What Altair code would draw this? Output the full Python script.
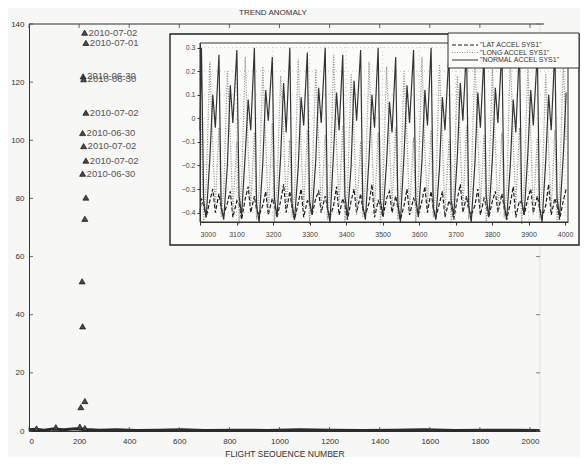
import altair as alt
import pandas as pd

FONT = "Liberation Sans"

TITLE = "TREND ANOMALY"
XTITLE = "FLIGHT SEQUENCE NUMBER"

# ---------------- main chart data ----------------
TRI_X = [222, 227, 216, 218, 227, 214, 218, 227, 214, 227, 223, 212, 214, 223, 207, 203, 223, 30, 107]
TRI_Y = [137.0, 133.5, 122.0, 121.0, 109.5, 102.5, 98.0, 93.0, 88.5, 80.3, 73.0, 51.5, 36.0, 10.3, 8.2, 1.5, 1.0, 0.9, 1.3]
TRI_LABEL = ["2010-07-02", "2010-07-01", "2010-06-30", "2010-06-30", "2010-07-02",
             "2010-06-30", "2010-07-02", "2010-07-02", "2010-06-30",
             "", "", "", "", "", "", "", "", "", ""]

BASE_X = [0, 25, 60, 95, 140, 185, 230, 280, 350, 430, 520, 610, 700, 820, 950, 1080,
          1200, 1330, 1460, 1580, 1700, 1820, 1940, 2040]
BASE_Y = [0.4, 0.6, 0.3, 0.7, 0.4, 0.8, 0.5, 0.3, 0.4, 0.2, 0.3, 0.4, 0.2, 0.3, 0.2, 0.4,
          0.3, 0.2, 0.3, 0.4, 0.2, 0.3, 0.3, 0.2]

MAIN_XTICKS = [0, 200, 400, 600, 800, 1000, 1200, 1400, 1600, 1800, 2000]
MAIN_YTICKS = [0, 20, 40, 60, 80, 100, 120, 140]

# ---------------- inset data ----------------
SERIES = ['"LAT ACCEL SYS1"', '"LONG ACCEL SYS1"', '"NORMAL ACCEL SYS1"']

INSET_X = [3000,
    3004, 3010, 3017, 3027, 3035, 3042,
    3052, 3058, 3065, 3075, 3083, 3090,
    3101, 3107, 3114, 3124, 3132, 3139,
    3149, 3155, 3162, 3172, 3180, 3187,
    3198, 3204, 3211, 3221, 3229, 3236,
    3246, 3252, 3259, 3269, 3277, 3284,
    3294, 3300, 3307, 3317, 3325, 3332,
    3343, 3349, 3356, 3366, 3374, 3381,
    3391, 3397, 3404, 3414, 3422, 3429,
    3440, 3446, 3453, 3463, 3471, 3478,
    3488, 3494, 3501, 3511, 3519, 3526,
    3536, 3542, 3549, 3559, 3567, 3574,
    3585, 3591, 3598, 3608, 3616, 3623,
    3633, 3639, 3646, 3656, 3664, 3671,
    3682, 3688, 3695, 3705, 3713, 3720,
    3730, 3736, 3743, 3753, 3761, 3768,
    3778, 3784, 3791, 3801, 3809, 3816,
    3827, 3833, 3840, 3850, 3858, 3865,
    3875, 3881, 3888, 3898, 3906, 3913,
    3924, 3930, 3937, 3947, 3955, 3962,
    3972, 3978, 3985, 3995, 4003]

LAT = [-0.40,
    -0.34, -0.37, -0.42, -0.35, -0.30, -0.40,
    -0.32, -0.38, -0.41, -0.36, -0.31, -0.42,
    -0.35, -0.36, -0.43, -0.34, -0.29, -0.40,
    -0.33, -0.39, -0.41, -0.37, -0.31, -0.41,
    -0.34, -0.37, -0.42, -0.35, -0.28, -0.40,
    -0.31, -0.38, -0.43, -0.36, -0.30, -0.42,
    -0.35, -0.36, -0.41, -0.34, -0.31, -0.40,
    -0.33, -0.38, -0.42, -0.37, -0.29, -0.41,
    -0.34, -0.37, -0.43, -0.35, -0.30, -0.40,
    -0.32, -0.39, -0.41, -0.36, -0.28, -0.42,
    -0.35, -0.37, -0.42, -0.34, -0.31, -0.40,
    -0.33, -0.38, -0.43, -0.37, -0.30, -0.41,
    -0.34, -0.36, -0.41, -0.35, -0.29, -0.40,
    -0.31, -0.38, -0.42, -0.36, -0.31, -0.42,
    -0.35, -0.37, -0.43, -0.34, -0.28, -0.40,
    -0.33, -0.39, -0.41, -0.37, -0.30, -0.41,
    -0.34, -0.37, -0.42, -0.35, -0.31, -0.40,
    -0.32, -0.38, -0.43, -0.36, -0.29, -0.42,
    -0.35, -0.36, -0.41, -0.34, -0.30, -0.40,
    -0.33, -0.38, -0.42, -0.37, -0.28, -0.41,
    -0.34, -0.37, -0.43, -0.35, -0.30]

LONG = [0.22,
    -0.08, -0.44, -0.28, 0.24, -0.12, -0.38,
    -0.04, -0.42, -0.31, 0.20, -0.08, -0.40,
    -0.10, -0.45, -0.27, 0.26, -0.14, -0.37,
    -0.06, -0.43, -0.30, 0.22, -0.10, -0.41,
    -0.02, -0.44, -0.29, 0.18, -0.06, -0.39,
    -0.09, -0.42, -0.32, 0.25, -0.13, -0.38,
    -0.05, -0.45, -0.28, 0.21, -0.09, -0.40,
    -0.07, -0.43, -0.30, 0.27, -0.11, -0.37,
    -0.03, -0.44, -0.31, 0.19, -0.07, -0.41,
    -0.10, -0.42, -0.27, 0.24, -0.12, -0.39,
    -0.06, -0.45, -0.29, 0.22, -0.10, -0.38,
    -0.04, -0.43, -0.32, 0.20, -0.08, -0.40,
    -0.08, -0.44, -0.28, 0.26, -0.13, -0.37,
    -0.05, -0.42, -0.30, 0.23, -0.09, -0.41,
    -0.09, -0.45, -0.31, 0.18, -0.11, -0.39,
    -0.03, -0.43, -0.27, 0.25, -0.07, -0.38,
    -0.07, -0.44, -0.29, 0.21, -0.12, -0.40,
    -0.06, -0.42, -0.32, 0.27, -0.10, -0.37,
    -0.04, -0.45, -0.28, 0.22, -0.08, -0.41,
    -0.08, -0.43, -0.30, 0.19, -0.13, -0.39,
    -0.05, -0.44, -0.31, 0.24, -0.09]

NORMAL = [-0.05,
    0.30, -0.35, -0.42, -0.17, 0.10, -0.04,
    0.27, -0.38, -0.43, -0.20, 0.14, -0.02,
    0.29, -0.33, -0.41, -0.15, 0.08, -0.05,
    0.30, -0.37, -0.44, -0.19, 0.12, -0.01,
    0.26, -0.34, -0.42, -0.16, 0.15, -0.06,
    0.30, -0.36, -0.43, -0.21, 0.09, -0.03,
    0.28, -0.35, -0.41, -0.18, 0.13, -0.02,
    0.30, -0.38, -0.44, -0.14, 0.11, -0.05,
    0.27, -0.33, -0.42, -0.20, 0.16, -0.01,
    0.29, -0.37, -0.43, -0.17, 0.10, -0.04,
    0.30, -0.35, -0.41, -0.19, 0.07, -0.06,
    0.26, -0.36, -0.44, -0.15, 0.14, -0.02,
    0.29, -0.34, -0.42, -0.18, 0.12, -0.03,
    0.30, -0.38, -0.43, -0.21, 0.09, -0.05,
    0.28, -0.35, -0.41, -0.16, 0.15, -0.01,
    0.30, -0.37, -0.44, -0.19, 0.11, -0.04,
    0.27, -0.33, -0.42, -0.17, 0.13, -0.02,
    0.29, -0.36, -0.43, -0.20, 0.08, -0.06,
    0.30, -0.35, -0.41, -0.15, 0.12, -0.03,
    0.28, -0.38, -0.44, -0.18, 0.10, -0.05,
    0.29, -0.34, -0.42, -0.16, 0.11]

INSET_XTICKS = [3000, 3100, 3200, 3300, 3400, 3500, 3600, 3700, 3800, 3900, 4000]
INSET_YTICKS = [-0.4, -0.3, -0.2, -0.1, 0.0, 0.1, 0.2, 0.3]

# ---------------- tables ----------------
tri_df = pd.DataFrame({"x": TRI_X, "y": TRI_Y, "label": TRI_LABEL})
base_df = pd.DataFrame({"x": BASE_X, "y": BASE_Y})
rows = []
for name, vals in zip(SERIES, [LAT, LONG, NORMAL]):
    for xv, yv in zip(INSET_X, vals):
        rows.append({"x": xv, "y": yv, "series": name})
inset_df = pd.DataFrame(rows)
legend_df = pd.DataFrame({"series": SERIES})
title_df = pd.DataFrame({"t": [TITLE]})

W, H = 511, 407
# inset geometry (pixels inside plot area)
IX0, IX1 = 171, 539
IY0, IY1 = 198, 19

mx = alt.Scale(domain=[0, 2040], range=[0, W])
my = alt.Scale(domain=[0, 140], range=[H, 0])
ix = alt.Scale(domain=[3000, 4008], range=[IX0, IX1])
iy = alt.Scale(domain=[-0.44, 0.32], range=[IY0, IY1])
dash_scale = alt.Scale(domain=SERIES, range=[[4, 2], [1, 1.5], [1, 0]])
col_scale = alt.Scale(domain=SERIES, range=["#1e1e1e", "#8c8c8c", "#333333"])
leg_y = alt.Scale(type="point", domain=SERIES, range=[21, 36], padding=0)

# main axes (x and y)
main_axes = alt.Chart(base_df).mark_line(color="#2b2b2b", strokeWidth=3).encode(
    x=alt.X("x:Q", scale=mx, axis=alt.Axis(
        values=MAIN_XTICKS, format="d", ticks=False, labelFontSize=8, labelPadding=6,
        labelColor="#333", domainColor="#333", title=XTITLE,
        titleFontSize=8.5, titleFontWeight="normal", titleColor="#333",
        titlePadding=4, labelFont=FONT, titleFont=FONT, grid=False, orient="bottom")),
    y=alt.Y("y:Q", scale=my, axis=alt.Axis(
        values=MAIN_YTICKS, format="d", ticks=False, labelFontSize=8, labelPadding=5,
        labelColor="#333", domainColor="#333", title=None, labelFont=FONT,
        grid=False, orient="left")),
)

title_mark = alt.Chart(title_df).mark_text(
    fontSize=8, color="#333", font=FONT, baseline="middle", align="center").encode(
    x=alt.value(244), y=alt.value(-11), text="t:N")

xt_df = pd.DataFrame({"v": MAIN_XTICKS})
yt_df = pd.DataFrame({"v": MAIN_YTICKS})
ticks_bottom = alt.Chart(xt_df).mark_rule(color="#444", strokeWidth=0.8).encode(
    x=alt.X("v:Q", scale=mx, axis=None), y=alt.value(H), y2=alt.value(H - 4))
ticks_top = alt.Chart(xt_df).mark_rule(color="#444", strokeWidth=0.8).encode(
    x=alt.X("v:Q", scale=mx, axis=None), y=alt.value(0), y2=alt.value(4))
ticks_left = alt.Chart(yt_df).mark_rule(color="#444", strokeWidth=0.8).encode(
    y=alt.Y("v:Q", scale=my, axis=None), x=alt.value(0), x2=alt.value(4))
ticks_right = alt.Chart(yt_df).mark_rule(color="#666", strokeWidth=0.8).encode(
    y=alt.Y("v:Q", scale=my, axis=None), x=alt.value(W), x2=alt.value(W - 4))
top_border = alt.Chart(title_df).mark_rule(color="#333", strokeWidth=1).encode(
    x=alt.value(0), x2=alt.value(W + 4), y=alt.value(0))
right_border = alt.Chart(title_df).mark_rule(color="#d8d8d8", strokeWidth=0.8).encode(
    x=alt.value(W), y=alt.value(0), y2=alt.value(H))

triangles = alt.Chart(tri_df).mark_point(
    shape="triangle-up", filled=True, size=36, color="#4a4a4a",
    stroke="#111", strokeWidth=0.7, opacity=1).encode(
    x=alt.X("x:Q", scale=mx, axis=None), y=alt.Y("y:Q", scale=my, axis=None))
labels = alt.Chart(tri_df).mark_text(
    align="left", baseline="middle", dx=4, fontSize=9.5, color="#555", font=FONT).encode(
    x=alt.X("x:Q", scale=mx, axis=None), y=alt.Y("y:Q", scale=my, axis=None),
    text="label:N")

# inset
inset_frame = alt.Chart(title_df).mark_rect(
    fill="#fbfbf9", stroke="#222", strokeWidth=1.4).encode(
    x=alt.value(141), x2=alt.value(550), y=alt.value(10), y2=alt.value(221))

ixt_df = pd.DataFrame({"v": INSET_XTICKS})
iyt_df = pd.DataFrame({"v": INSET_YTICKS})
grid_h = alt.Chart(iyt_df).mark_rule(color="#b5b5b5", strokeWidth=0.7, strokeDash=[1, 3]).encode(
    y=alt.Y("v:Q", scale=iy, axis=None), x=alt.value(IX0), x2=alt.value(IX1))
grid_v = alt.Chart(ixt_df).mark_rule(color="#b5b5b5", strokeWidth=0.7, strokeDash=[1, 3]).encode(
    x=alt.X("v:Q", scale=ix, axis=None), y=alt.value(IY1), y2=alt.value(IY0))

inset_lines = alt.Chart(inset_df).mark_line(strokeWidth=1.2).encode(
    x=alt.X("x:Q", scale=ix, axis=alt.Axis(
        orient="bottom", offset=-(H - IY0), values=INSET_XTICKS, format="d", tickSize=3,
        labelFontSize=7, labelColor="#444", domainColor="#333", tickColor="#333",
        title=None, grid=False, zindex=1, labelFont=FONT, labelPadding=5)),
    y=alt.Y("y:Q", scale=iy, axis=alt.Axis(
        orient="left", offset=-IX0, values=INSET_YTICKS, tickSize=3,
        labelFontSize=7, labelColor="#444", domainColor="#333", tickColor="#333",
        title=None, grid=False, zindex=1, labelFont=FONT, labelPadding=2,
        labelExpr="datum.value == 0 ? '0' : format(datum.value, '.1f')")),
    color=alt.Color("series:N", scale=col_scale, legend=None),
    strokeDash=alt.StrokeDash("series:N", scale=dash_scale, legend=None),
    detail="series:N",
)

inset_box = alt.Chart(title_df).mark_rect(
    fill=None, stroke="#333", strokeWidth=1).encode(
    x=alt.value(IX0), x2=alt.value(IX1), y=alt.value(IY1), y2=alt.value(IY0))

legend_box = alt.Chart(title_df).mark_rect(
    fill="#fbfbf9", stroke="#333", strokeWidth=1).encode(
    x=alt.value(419), x2=alt.value(550), y=alt.value(9), y2=alt.value(44))
legend_lines = alt.Chart(legend_df).mark_rule(strokeWidth=1.2).encode(
    y=alt.Y("series:N", scale=leg_y, axis=None),
    x=alt.value(423), x2=alt.value(449),
    color=alt.Color("series:N", scale=col_scale, legend=None),
    strokeDash=alt.StrokeDash("series:N", scale=dash_scale, legend=None))
legend_text = alt.Chart(legend_df).mark_text(
    align="left", baseline="middle", fontSize=7, color="#333", font=FONT).encode(
    y=alt.Y("series:N", scale=leg_y, axis=None), x=alt.value(451), text="series:N")

chart = alt.layer(
    main_axes, title_mark, right_border, top_border, ticks_bottom, ticks_top, ticks_left, ticks_right,
    triangles, labels,
    inset_frame, grid_h, grid_v, inset_lines, inset_box,
    legend_box, legend_lines, legend_text,
).resolve_scale(x="independent", y="independent").properties(
    width=W, height=H,
    autosize=alt.AutoSizeParams(type="none"),
    padding={"left": 21, "top": 16, "right": 40, "bottom": 26},
    background="#f7f7f5",
).configure_view(stroke=None)

chart.save("out.html", embed_options={"renderer": "svg", "actions": False})
